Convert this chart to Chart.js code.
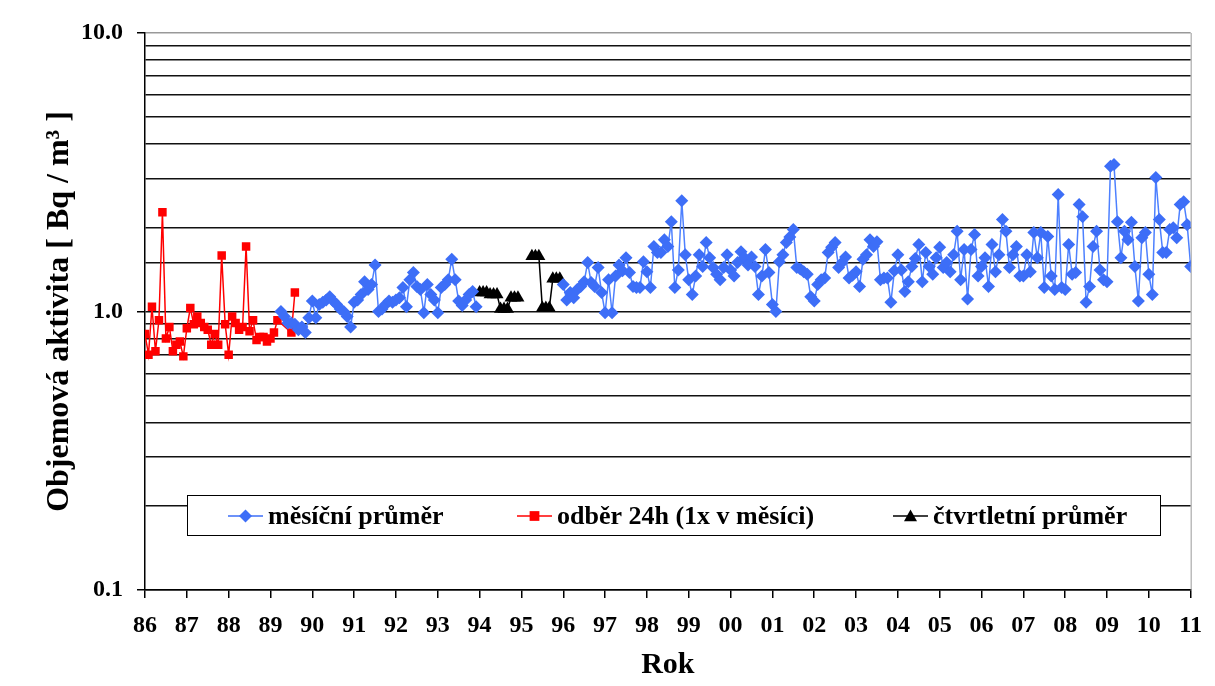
<!DOCTYPE html>
<html>
<head>
<meta charset="utf-8">
<script src="https://cdn.jsdelivr.net/npm/chart.js@4.4.0/dist/chart.umd.min.js"></script>
<style>
  body { margin: 0; background: #fff; }
  canvas { display: block; }
</style>
</head>
<body>
<canvas id="chart" width="1215" height="686"></canvas>
<script>
// x values are years counted from 1900 (86 ... 111), ticks show two digits
const yearTicks = ['86','87','88','89','90','91','92','93','94','95','96','97','98','99',
  '00','01','02','03','04','05','06','07','08','09','10','11'];
const yTickLabels = ['0.1', '1.0', '10.0'];

// odběr 24h (1x v měsíci), monthly from Jan 1986
const redStart = 86;
const redValues = [0.83, 0.70, 1.04, 0.72, 0.93, 2.27, 0.80, 0.88, 0.72, 0.76, 0.78, 0.69,
  0.87, 1.03, 0.90, 0.96, 0.91, 0.88, 0.86, 0.76, 0.83, 0.76, 1.59, 0.90,
  0.70, 0.96, 0.91, 0.86, 0.88, 1.71, 0.85, 0.93, 0.79, 0.81, 0.81, 0.78,
  0.80, 0.84, 0.93, null, null, null, 0.84, 1.17];

// měsíční průměr, monthly from Apr 1989 to Dec 1993
const blueEarlyStart = 89.25;
const blueEarly = [1.00, 0.96, 0.91, 0.91, 0.90, 0.86, 0.88, 0.84, 0.95, 1.09, 0.95, 1.06,
  1.08, 1.10, 1.13, 1.09, 1.06, 1.02, 1.00, 0.96, 0.88, 1.08, 1.10, 1.15,
  1.28, 1.20, 1.25, 1.47, 1.00, 1.02, 1.06, 1.09, 1.08, 1.10, 1.12, 1.22,
  1.04, 1.30, 1.38, 1.23, 1.20, 0.99, 1.25, 1.15, 1.10, 0.99, 1.22, 1.25,
  1.30, 1.54, 1.30, 1.09, 1.05, 1.10, 1.15, 1.18, 1.04];

// měsíční průměr, monthly from Jan 1996
const blueLateStart = 96;
const blueLate = [1.25, 1.10, 1.17, 1.12, 1.20, 1.23, 1.28, 1.50, 1.27, 1.23, 1.44, 1.17,
  0.99, 1.30, 0.99, 1.34, 1.47, 1.40, 1.56, 1.38, 1.23, 1.22, 1.22, 1.51,
  1.39, 1.22, 1.71, 1.63, 1.63, 1.81, 1.71, 2.10, 1.22, 1.41, 2.50, 1.60,
  1.30, 1.15, 1.34, 1.60, 1.45, 1.77, 1.56, 1.44, 1.36, 1.30, 1.44, 1.60,
  1.41, 1.34, 1.50, 1.64, 1.56, 1.47, 1.57, 1.45, 1.15, 1.34, 1.67, 1.38,
  1.06, 1.00, 1.51, 1.60, 1.77, 1.85, 1.97, 1.44, 1.42, 1.39, 1.36, 1.13,
  1.09, 1.25, 1.30, 1.32, 1.63, 1.70, 1.77, 1.44, 1.50, 1.57, 1.32, 1.35,
  1.39, 1.23, 1.54, 1.60, 1.81, 1.71, 1.78, 1.30, 1.32, 1.32, 1.08, 1.40,
  1.60, 1.41, 1.18, 1.28, 1.45, 1.55, 1.74, 1.28, 1.63, 1.45, 1.36, 1.56,
  1.70, 1.44, 1.50, 1.39, 1.60, 1.94, 1.30, 1.67, 1.11, 1.67, 1.89, 1.34,
  1.45, 1.56, 1.23, 1.74, 1.39, 1.60, 2.14, 1.94, 1.44, 1.60, 1.71, 1.34,
  1.34, 1.60, 1.39, 1.92, 1.56, 1.92, 1.22, 1.86, 1.34, 1.20, 2.63, 1.22,
  1.20, 1.74, 1.36, 1.38, 2.42, 2.19, 1.08, 1.23, 1.71, 1.94, 1.41, 1.30,
  1.28, 3.32, 3.37, 2.10, 1.56, 1.94, 1.81, 2.09, 1.45, 1.09, 1.84, 1.92,
  1.36, 1.15, 3.03, 2.14, 1.63, 1.63, 1.97, 2.00, 1.84, 2.42, 2.48, 2.05,
  1.45];

// čtvrtletní průměr, quarters 1994 Q1 ... 1995 Q4 (shown for each month)
const blackStart = 94;
const quarterValues = [1.17, 1.15, 1.02, 1.12, null, 1.58, 1.03, 1.31];

const monthly = (start, values) => values.map((v, i) => ({ x: start + i / 12, y: v }));

const bluePoints = monthly(blueEarlyStart, blueEarly)
  .concat([{ x: 95, y: null }])
  .concat(monthly(blueLateStart, blueLate));

const blackPoints = [];
quarterValues.forEach((v, q) => {
  for (let m = 0; m < 3; m++) {
    blackPoints.push({ x: blackStart + (q * 3 + m) / 12, y: v });
  }
});

const serif = 'Liberation Serif, Times New Roman, serif';
const isMajor = v => Math.abs(Math.log10(v) - Math.round(Math.log10(v))) < 1e-6;

const legendItems = [
  { text: 'měsíční průměr', color: '#3d6ef7', style: 'diamond', x: 228 },
  { text: 'odběr 24h (1x v měsíci)', color: '#ff0000', style: 'square', x: 517 },
  { text: 'čtvrtletní průměr', color: '#000000', style: 'triangle', x: 893 }
];

function marker(ctx, style, x, y, r) {
  ctx.beginPath();
  if (style === 'square') {
    ctx.rect(x - r * 0.75, y - r * 0.75, r * 1.5, r * 1.5);
  } else if (style === 'diamond') {
    ctx.moveTo(x, y - r); ctx.lineTo(x + r, y); ctx.lineTo(x, y + r); ctx.lineTo(x - r, y);
    ctx.closePath();
  } else {
    ctx.moveTo(x, y - r); ctx.lineTo(x + r, y + r * 0.8); ctx.lineTo(x - r, y + r * 0.8);
    ctx.closePath();
  }
  ctx.fill();
}

const boxLegend = {
  id: 'boxLegend',
  beforeDatasetsDraw(chart) {
    const { ctx, chartArea } = chart;
    ctx.save();
    ctx.strokeStyle = '#999';
    ctx.lineWidth = 1;
    ctx.beginPath();
    ctx.moveTo(chartArea.right + 0.5, chartArea.top);
    ctx.lineTo(chartArea.right + 0.5, chartArea.bottom);
    ctx.stroke();
    ctx.restore();
  },
  afterDraw(chart) {
    const ctx = chart.ctx;
    ctx.save();
    ctx.fillStyle = '#fff';
    ctx.fillRect(187, 495, 973, 40);
    ctx.strokeStyle = '#000';
    ctx.lineWidth = 1;
    ctx.strokeRect(187.5, 495.5, 973, 40);
    ctx.font = 'bold 26px ' + serif;
    ctx.textBaseline = 'middle';
    legendItems.forEach(item => {
      const y = 516;
      ctx.strokeStyle = item.color;
      ctx.lineWidth = 1.5;
      ctx.beginPath();
      ctx.moveTo(item.x, y);
      ctx.lineTo(item.x + 35, y);
      ctx.stroke();
      ctx.fillStyle = item.color;
      marker(ctx, item.style, item.x + 17.5, y, 6.5);
      ctx.fillStyle = '#000';
      ctx.fillText(item.text, item.x + 40, y + 1);
    });
    ctx.restore();
  }
};

new Chart(document.getElementById('chart'), {
  type: 'line',
  data: {
    datasets: [
      {
        label: 'měsíční průměr',
        data: bluePoints,
        borderColor: '#4d80ff',
        backgroundColor: '#3d6ef7',
        borderWidth: 1.5,
        pointStyle: 'rectRot',
        pointRadius: 6.5,
        pointBorderWidth: 0,
        spanGaps: false
      },
      {
        label: 'odběr 24h (1x v měsíci)',
        data: monthly(redStart, redValues),
        borderColor: '#ff0000',
        backgroundColor: '#ff0000',
        borderWidth: 1.5,
        pointStyle: 'rect',
        pointRadius: 6,
        pointBorderWidth: 0,
        spanGaps: true
      },
      {
        label: 'čtvrtletní průměr',
        data: blackPoints,
        borderColor: '#000000',
        backgroundColor: '#000000',
        borderWidth: 1.5,
        pointStyle: 'triangle',
        pointRadius: 7.5,
        pointBorderWidth: 0,
        spanGaps: false
      }
    ]
  },
  options: {
    responsive: false,
    animation: false,
    layout: { padding: { top: 33, right: 7, left: 0, bottom: 0 } },
    plugins: {
      legend: { display: false },
      tooltip: { enabled: false }
    },
    scales: {
      x: {
        type: 'linear',
        min: 86,
        max: 111,
        afterFit: scale => { scale.height = 96; },
        afterBuildTicks: scale => {
          scale.ticks = yearTicks.map((t, i) => ({ value: 86 + i }));
        },
        ticks: {
          autoSkip: false,
          maxRotation: 0,
          padding: 13,
          color: '#000',
          font: { family: serif, size: 24, weight: 'bold' },
          callback: (v, i) => yearTicks[i]
        },
        grid: { drawOnChartArea: false, drawTicks: true, tickLength: 8, color: '#000', lineWidth: 1.5 },
        border: { color: '#000', width: 1.5 },
        title: {
          display: true,
          text: 'Rok',
          color: '#000',
          font: { family: serif, size: 30, weight: 'bold' },
          padding: { top: 3, bottom: 3 }
        }
      },
      y: {
        type: 'logarithmic',
        min: 0.1,
        max: 10,
        afterFit: scale => { scale.width = 145; },
        ticks: {
          autoSkip: false,
          padding: 14,
          color: '#000',
          font: { family: serif, size: 24, weight: 'bold' },
          callback: v => isMajor(v) ? yTickLabels[Math.round(Math.log10(v)) + 1] : ''
        },
        grid: {
          color: ctx => ctx.tick && ctx.tick.value >= 9.99 ? '#999' : '#111',
          lineWidth: 1.5,
          tickLength: 8,
          tickColor: ctx => ctx.tick && isMajor(ctx.tick.value) ? '#000' : 'rgba(0,0,0,0)'
        },
        border: { color: '#000', width: 1.5 },
        title: {
          display: true,
          text: 'Objemová aktivita [ Bq / m³ ]',
          color: '#000',
          font: { family: serif, size: 32, weight: 'bold' },
          padding: { top: 41, bottom: 0 }
        }
      }
    }
  },
  plugins: [boxLegend]
});
</script>
</body>
</html>
